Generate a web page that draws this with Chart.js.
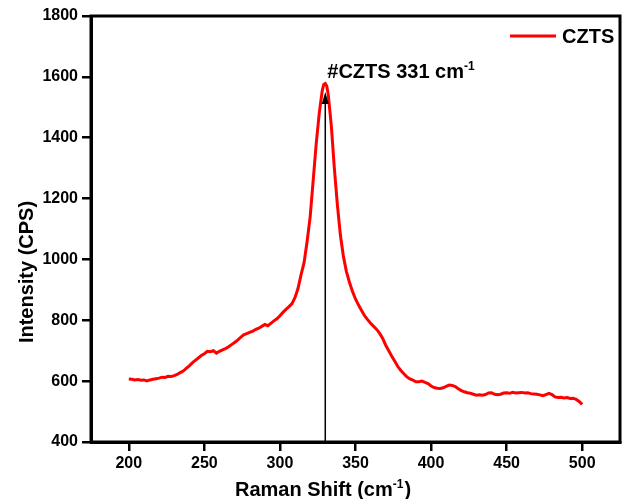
<!DOCTYPE html>
<html>
<head>
<meta charset="utf-8">
<script src="https://cdn.jsdelivr.net/npm/chart.js@4"></script>
<style>
  html, body { margin: 0; padding: 0; background: #fff; }
</style>
</head>
<body>
<canvas id="ramanChart" width="623" height="499"></canvas>
<script>
// Raman spectrum of CZTS
const ramanShift = [
    200, 202, 204, 206, 208, 210, 212, 214, 216, 218, 220, 222, 224, 226, 228, 230,
    232, 234, 236, 238, 240, 242, 244, 246, 248, 250, 252, 254, 256, 258, 260, 262,
    264, 266, 268, 270, 272, 274, 276, 278, 280, 282, 284, 286, 288, 290, 292, 294,
    296, 298, 300, 302, 304, 306, 308, 310, 312, 314, 316, 318, 320, 322, 324, 326,
    328, 329, 330, 331, 332, 334, 336, 338, 340, 342, 344, 346, 348, 350, 352, 354,
    356, 358, 360, 362, 364, 366, 368, 370, 372, 374, 376, 378, 380, 382, 384, 386,
    388, 390, 392, 394, 396, 398, 400, 402, 404, 406, 408, 410, 412, 414, 416, 418,
    420, 422, 424, 426, 428, 430, 432, 434, 436, 438, 440, 442, 444, 446, 448, 450,
    452, 454, 456, 458, 460, 462, 464, 466, 468, 470, 472, 474, 476, 478, 480, 482,
    484, 486, 488, 490, 492, 494, 496, 498, 500
];
const intensity = [
    607, 606, 604, 605, 603, 604, 601, 604, 606, 608, 610, 613, 612, 616, 615, 618,
    622, 628, 633, 642, 650, 660, 668, 676, 684, 690, 698, 697, 700, 692, 698, 703,
    707, 713, 720, 727, 735, 744, 752, 756, 760, 764, 770, 774, 780, 786, 782, 790,
    798, 805, 815, 826, 836, 845, 855, 875, 905, 950, 990, 1060, 1140, 1260, 1380, 1480,
    1555, 1575, 1578, 1570, 1540, 1440, 1300, 1180, 1080, 1010, 960, 925, 895, 870, 850, 832,
    815, 802, 790, 780, 770, 757, 740, 718, 700, 682, 665, 648, 635, 624, 614, 607,
    603, 598, 598, 600, 596, 592, 584, 579, 577, 576, 578, 583, 587, 586, 582, 575,
    569, 565, 562, 560, 557, 554, 555, 554, 556, 561, 562, 557, 555, 557, 561, 562,
    560, 563, 561, 562, 563, 561, 562, 559, 558, 557, 555, 552, 556, 560, 556, 548,
    546, 547, 545, 546, 543, 544, 540, 533, 524
];
const xTicks = [200, 250, 300, 350, 400, 450, 500];
const yTicks = [400, 600, 800, 1000, 1200, 1400, 1600, 1800];
const seriesName = 'CZTS';

// peak annotation
const peakShift = 330;
const arrowTip = 1550;

const FONT = "'Liberation Sans', Arial, sans-serif";

// draws "base" + superscript + "tail", returns the width
function supText(ctx, x, y, base, sup, tail, size, dryRun) {
    ctx.font = 'bold ' + size + 'px ' + FONT;
    const w1 = ctx.measureText(base).width;
    const w3 = ctx.measureText(tail).width;
    ctx.font = 'bold ' + Math.round(size * 0.6) + 'px ' + FONT;
    const w2 = ctx.measureText(sup).width;
    if (!dryRun) {
        ctx.font = 'bold ' + size + 'px ' + FONT;
        ctx.fillText(base, x, y);
        ctx.fillText(tail, x + w1 + w2 + 1, y);
        ctx.font = 'bold ' + Math.round(size * 0.6) + 'px ' + FONT;
        ctx.fillText(sup, x + w1, y - size * 0.42);
    }
    return w1 + w2 + 1 + w3;
}

const decorations = {
    id: 'decorations',
    afterDatasetsDraw(chart) {
        const { ctx, chartArea, scales } = chart;
        const x = scales.x, y = scales.y;
        ctx.save();

        // arrow pointing at the peak
        const ax = x.getPixelForValue(peakShift);
        const tipY = y.getPixelForValue(arrowTip);
        ctx.strokeStyle = '#000';
        ctx.fillStyle = '#000';
        ctx.lineWidth = 1.5;
        ctx.beginPath();
        ctx.moveTo(ax, chartArea.bottom);
        ctx.lineTo(ax, tipY + 8);
        ctx.stroke();
        ctx.beginPath();
        ctx.moveTo(ax, tipY);
        ctx.lineTo(ax - 3.5, tipY + 12);
        ctx.lineTo(ax + 3.5, tipY + 12);
        ctx.closePath();
        ctx.fill();

        ctx.textBaseline = 'alphabetic';
        ctx.textAlign = 'left';
        supText(ctx, ax + 2, 78, '#CZTS 331 cm', '-1', '', 20);

        // legend, top right inside the frame
        ctx.strokeStyle = '#ff0000';
        ctx.lineWidth = 3;
        ctx.beginPath();
        ctx.moveTo(510, 36);
        ctx.lineTo(556, 36);
        ctx.stroke();
        ctx.fillStyle = '#000';
        ctx.font = 'bold 20px ' + FONT;
        ctx.textBaseline = 'middle';
        ctx.fillText(seriesName, 562, 37);
        ctx.restore();
    },
    afterDraw(chart) {
        const { ctx, chartArea } = chart;
        ctx.save();
        ctx.strokeStyle = '#000';
        ctx.lineWidth = 3;
        ctx.strokeRect(chartArea.left, chartArea.top,
            chartArea.right - chartArea.left, chartArea.bottom - chartArea.top);

        // axis titles
        ctx.fillStyle = '#000';
        ctx.textBaseline = 'alphabetic';
        const w = supText(ctx, 0, 0, 'Raman Shift (cm', '-1', ')', 20, true);
        supText(ctx, 323 - w / 2, 496, 'Raman Shift (cm', '-1', ')', 20);

        ctx.translate(33, 272);
        ctx.rotate(-Math.PI / 2);
        ctx.textAlign = 'center';
        ctx.font = 'bold 20px ' + FONT;
        ctx.fillText('Intensity (CPS)', 0, 0);
        ctx.restore();
    }
};

new Chart(document.getElementById('ramanChart'), {
    type: 'line',
    data: {
        datasets: [{
            label: seriesName,
            data: ramanShift.map((v, i) => ({ x: v, y: intensity[i] })),
            borderColor: '#ff0000',
            borderWidth: 3,
            pointRadius: 0,
            tension: 0,
            fill: false
        }]
    },
    options: {
        responsive: false,
        animation: false,
        layout: { padding: { top: 16, right: 3, left: 0, bottom: 0 } },
        plugins: {
            legend: { display: false },
            tooltip: { enabled: false }
        },
        scales: {
            x: {
                type: 'linear',
                min: 175,
                max: 525,
                afterBuildTicks: (scale) => { scale.ticks = xTicks.map(v => ({ value: v })); },
                afterFit: (scale) => { scale.height = 57; },
                grid: { drawOnChartArea: false, tickLength: 9, color: '#000', lineWidth: 2.5 },
                border: { display: true, color: '#000', width: 3 },
                ticks: {
                    color: '#000', padding: 3, maxRotation: 0,
                    font: { family: FONT, size: 16, weight: 'bold' },
                    callback: (v) => String(v)
                }
            },
            y: {
                min: 400,
                max: 1800,
                afterBuildTicks: (scale) => { scale.ticks = yTicks.map(v => ({ value: v })); },
                afterFit: (scale) => { scale.width = 91; },
                grid: { drawOnChartArea: false, tickLength: 9, color: '#000', lineWidth: 2.5 },
                border: { display: true, color: '#000', width: 3 },
                ticks: {
                    color: '#000', padding: 4,
                    font: { family: FONT, size: 16, weight: 'bold' },
                    callback: (v) => String(v)
                }
            }
        }
    },
    plugins: [decorations]
});
</script>
</body>
</html>
